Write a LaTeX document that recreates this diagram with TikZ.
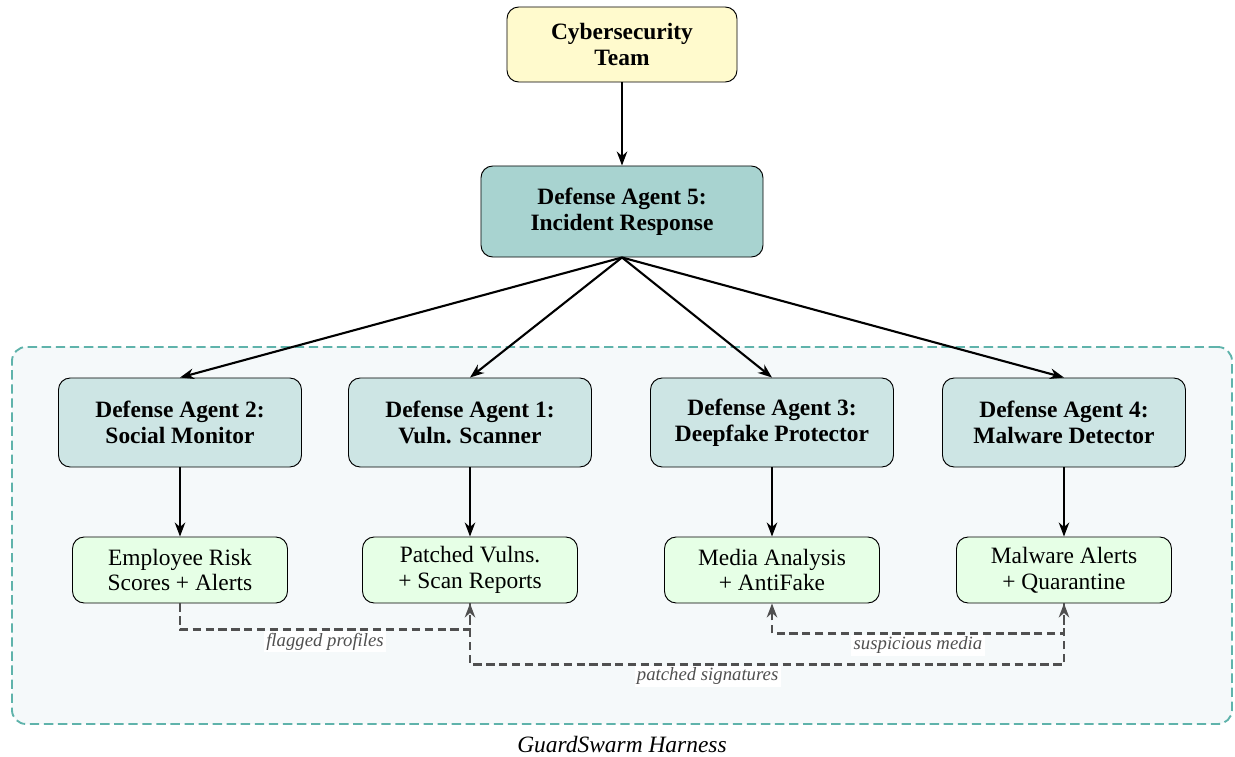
\documentclass[tikz,border=0pt]{standalone}
\usepackage{fontspec}
\setmainfont{Liberation Serif}
\usepackage{tikz}
\usetikzlibrary{arrows.meta,positioning}
\definecolor{teamyellow}{RGB}{255,250,205}
\definecolor{agentteal}{RGB}{168,211,208}
\definecolor{agentlight}{RGB}{205,229,228}
\definecolor{outgreen}{RGB}{230,255,230}
\definecolor{harnessfill}{RGB}{245,249,250}
\definecolor{harnessedge}{RGB}{95,179,171}
\definecolor{linkgray}{RGB}{80,80,80}

\tikzset{
    box/.style={draw, rounded corners=5pt, align=center, font=\fontsize{10}{11}\selectfont},
    leadbox/.style={box, fill=agentteal, font=\fontsize{10}{11}\selectfont\bfseries, minimum width=4.23cm, minimum height=1.365cm},
    agentbox/.style={box, fill=agentlight, font=\fontsize{10}{11}\selectfont\bfseries, minimum width=3.645cm, minimum height=1.335cm},
    outbox/.style={box, fill=outgreen, minimum width=3.225cm, minimum height=0.99cm},
    flow/.style={line width=0.9pt, -{Stealth[length=6pt,width=4.5pt]}},
    link/.style={linkgray, line width=0.9pt, dash pattern=on 3.5pt off 2pt, -{Stealth[length=6pt,width=4.5pt]}},
    lbl/.style={fill=white, inner sep=1pt, text=linkgray, font=\footnotesize\itshape}
}

\begin{document}
\begin{tikzpicture}[x=0.015cm, y=-0.015cm]
    \useasboundingbox (0,0) rectangle (1235,757);
    % harness frame
    \node (harness) [draw=harnessedge, fill=harnessfill, thick, dash pattern=on 4pt off 2pt,
        rounded corners=6pt, minimum width=18.3cm, minimum height=5.655cm] at (622,535.5) {};
    \node (harnesstitle) [font=\itshape] at (622,745) {GuardSwarm Harness};

    \node (team) [box, fill=teamyellow, font=\fontsize{10}{11}\selectfont\bfseries,
        minimum width=3.45cm, minimum height=1.125cm] at (622,44.5) {Cybersecurity\\Team};
    \node (ag5) [leadbox] at (622,211.5) {Defense Agent 5:\\Incident Response};

    \node (ag2) [agentbox] at (180,422.5) {Defense Agent 2:\\Social Monitor};
    \node (ag1) [agentbox] at (470,422.5) {Defense Agent 1:\\Vuln. Scanner};
    \node (ag3) [agentbox] at (772,422.5) {Defense Agent 3:\\Deepfake Protector};
    \node (ag4) [agentbox] at (1064,422.5) {Defense Agent 4:\\Malware Detector};

    \node (out2) [outbox] at (180,570) {Employee Risk\\Scores + Alerts};
    \node (out1) [outbox] at (470,570) {Patched Vulns.\\+ Scan Reports};
    \node (out3) [outbox] at (772,570) {Media Analysis\\+ AntiFake};
    \node (out4) [outbox] at (1064,570) {Malware Alerts\\+ Quarantine};

    \draw[flow] (team) -- (ag5);
    \foreach \a in {ag2,ag1,ag3,ag4}
        \draw[flow] (ag5.south) -- (\a.north);
    \draw[flow] (ag2) -- (out2);
    \draw[flow] (ag1) -- (out1);
    \draw[flow] (ag3) -- (out3);
    \draw[flow] (ag4) -- (out4);

    % shared intel
    \draw[link] (out2.south) -- ++(0,26) -| node[pos=0.25, below, lbl] {flagged profiles} (out1.south);
    \draw[link] (out1.south) -- ++(0,61) -| node[pos=0.2, below, lbl] {patched signatures} (out4.south);
    \draw[link] (out4.south) -- ++(0,30) -| node[pos=0.25, below, lbl] {suspicious media} (out3.south);
\end{tikzpicture}
\end{document}
